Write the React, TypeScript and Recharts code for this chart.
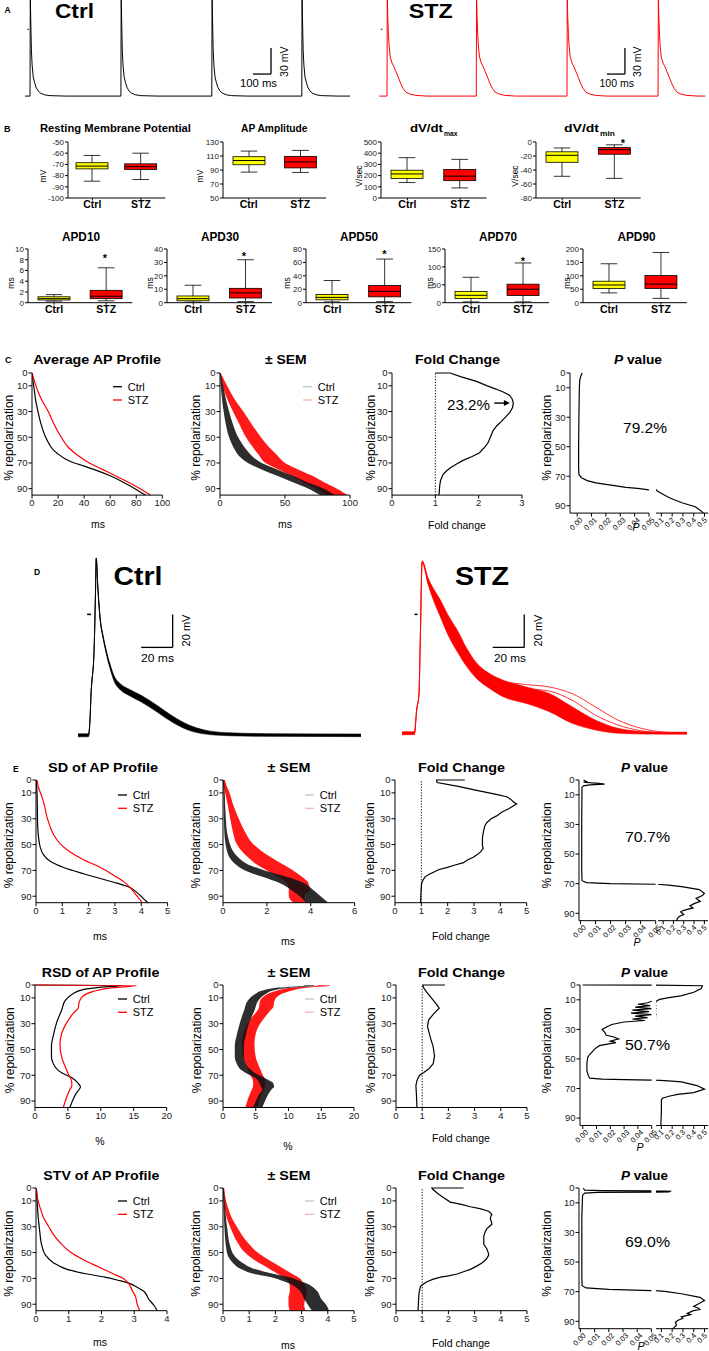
import React from 'react';
import { ComposedChart, Line, Area, Bar, XAxis, YAxis, ReferenceLine } from 'recharts';

const FONT = "'Liberation Sans', Arial, Helvetica, sans-serif";
const RED = '#ff0000';
const YELLOW = '#ffff00';
const AX = { stroke: '#000', strokeWidth: 1 };

/* ---------------- A : paced AP trains (ms after spike, mV) ---------------- */
const apWaveCtrl = [[0,-77],[1.5,40],[4,12],[7.6,-24],[12,-42],[17.8,-55],[25,-61],[33,-66.6],[45,-71],[58,-73.5],[80,-75.5],[111,-76.5],[200,-77]];
const apWaveStz = [[0,-77],[1.5,40],[4,16],[8,-6],[12,-20],[18,-32],[28,-39],[38,-43],[50,-49],[64,-56],[76,-62.5],[89,-68],[105,-72.5],[127,-74.7],[160,-76.2],[220,-77]];
const spikeTimesCtrl = [0, 505, 1010, 1510];
const spikeTimesStz = [0, 496, 1000, 1506];
const trainSpanCtrl = [-28, 1778];
const trainSpanStz = [-43, 1769];

/* ---------------- B : box plots [min, Q1, median, Q3, max] ---------------- */
const boxGroups = ['Ctrl', 'STZ'];
const rmpBox = [[-85,-74,-71.5,-68.5,-62],[-83.5,-74.5,-72,-69.5,-60]];
const ampBox = [[87,97.5,103.5,109,117],[86.5,93,101.5,109.5,118]];
const dvMaxBox = [[138,175,215,248,360],[90,155,195,255,345]];
const dvMinBox = [[-49,-29,-19,-14,-8.5],[-52,-17.5,-11,-8,-4]];
const apd10Box = [[0.3,0.5,0.75,1.1,1.5],[0.35,0.75,1.2,2.3,6.5]];
const apd30Box = [[0.4,1.4,3,5,13],[0.8,3.5,7.3,10.7,32]];
const apd50Box = [[1.2,4.3,7.9,12.2,33],[1.6,8.7,17,25.6,65]];
const apd70Box = [[2.2,11.8,20.7,31,71],[2.2,20,37.7,51.7,111]];
const apd90Box = [[36.5,53,66,80,145],[16,53,69,101,187]];
const rmpTicks = [-100,-90,-80,-70,-60,-50];
const ampTicks = [50,70,90,110,130];
const dvMaxTicks = [0,100,200,300,400,500];
const dvMinTicks = [-80,-60,-40,-20,0];
const apd10Ticks = [0,2,4,6,8,10];
const apd30Ticks = [0,10,20,30,40];
const apd50Ticks = [0,20,40,60,80];
const apd70Ticks = [0,50,100,150];
const apd90Ticks = [0,50,100,150,200];

/* ---------------- C : average AP profile [% repol, value] ---------------- */
const repolTicks = [0,10,30,50,70,90];
const avgCtrl = [[0,0],[3,0.5],[8,1],[15,2],[20,2.6],[30,4.6],[40,7],[50,10.5],[55,13],[60,16.5],[63,20],[66.5,25],[69,30],[72.5,40],[76,50],[80,60],[85,70],[90,79],[95,87]];
const avgStz = [[0,0],[5,1.5],[10,3],[20,7],[30,12.5],[40,17],[50,22.5],[58,28],[64,35],[70,44],[75,54],[80,64],[85,74],[90,83],[95,91]];
const avgSemCtrl = [[0,0,0.3],[5,0.3,1.5],[10,0.6,2.5],[20,1.5,4.5],[30,2.8,7],[40,4.5,10],[50,7,14],[55,9,17],[60,11.5,20.5],[65,15,25],[70,21.5,32],[75,32,44],[80,44,56],[85,56,67],[90,68,80],[95,77,88]];
const avgSemStz = [[0,0,0.5],[5,0.8,3],[10,2,5.5],[20,5.5,11],[30,10,18],[40,15,24.5],[50,20,31.5],[58,25.5,38],[64,30,44],[70,35,50],[75,45,60],[80,55,71],[85,64,80],[90,74,90],[95,82,98]];
const avgFold = [[0,1.0],[0,1.34],[3,1.6],[6.5,1.95],[10,2.2],[12.5,2.4],[15,2.58],[17.3,2.71],[20,2.77],[23.4,2.8],[27,2.78],[30.6,2.72],[34,2.63],[37.8,2.52],[41,2.42],[45,2.33],[50,2.27],[54.7,2.21],[58,2.13],[62,2.02],[65,1.85],[68,1.64],[71,1.48],[74,1.34],[76.5,1.25],[78.8,1.18],[83.6,1.12],[88,1.1],[93,1.09],[95,1.08]];
const avgP = [[0,0.0035],[2,0.0025],[5,0.0018],[10,0.0015],[30,0.0012],[50,0.001],[65,0.001],[69,0.0013],[71,0.003],[73,0.007],[74.5,0.013],[75.5,0.02],[76.5,0.027],[77.5,0.034],[78.3,0.042],[79.2,0.05],[80,0.062],[82,0.11],[84.4,0.17],[86,0.22],[88,0.29],[89.5,0.36],[90.5,0.41],[92,0.44],[94,0.475],[95,0.49]];

/* ---------------- D : superimposed APs [ms, mean mV, half-spread mV] ---------------- */
const dCtrl = [[0,-73.3,0.9],[6.7,-73.3,0.9],[7.6,-64,0.2],[8.4,-46,0.2],[8.7,-42,0.2],[10.2,-22,0.2],[11,8,0.2],[11.6,34,0.3],[12.5,18,0.4],[14,-2,0.6],[16,-14,0.8],[18,-23,1],[20.5,-32,1.3],[23,-39,1.6],[27,-44,1.8],[33,-47.5,1.9],[40,-51,2],[50,-57,2],[60,-63.5,1.9],[70,-68.5,1.6],[80,-71.2,1.2],[95,-72.6,0.9],[120,-73.1,0.8],[180,-73.3,0.8]];
const dStz = [[0,-72,0.9],[7.9,-72,0.9],[9.3,-58,0.2],[10.8,-48,0.2],[11.6,-16,0.3],[12.8,32,0.5],[16.6,20,2],[20,12,3.5],[23.9,4.5,5],[29,-6,6],[35.5,-16.7,6.5],[41,-26,5.5],[47,-34,4.5],[55,-40,4.5],[64.5,-45,5],[79,-49,5],[93.6,-53.5,5.5],[108,-61,5],[122.7,-67,3],[137,-70.5,1.5],[151.7,-71.7,0.8],[166,-72,0.6],[181,-72,0.6]];
const dStzOutA = [[41,-21],[47,-29],[55,-36],[64.5,-40.5],[79,-42.5],[93.6,-44],[108,-48],[122.7,-56],[137,-64],[151.7,-69],[166,-71.3],[181,-72]];
const dStzOutB = [[55,-37],[64.5,-42],[79,-45],[93.6,-46.5],[108,-52],[122.7,-61],[137,-67],[151.7,-70.5],[166,-71.8],[181,-72]];

/* ---------------- E1 : SD ---------------- */
const sdCtrl = [[0,0.01],[10.9,0.04],[20,0.05],[32.7,0.06],[44.8,0.1],[52,0.16],[58,0.29],[63,0.54],[67.8,1.05],[72.6,1.81],[76.3,2.45],[79.9,3.08],[82.3,3.46],[87.2,3.84],[92,4.09],[95,4.25]];
const sdStz = [[0,0.04],[6,0.1],[13.3,0.23],[20.6,0.33],[29,0.42],[36.3,0.54],[42.4,0.67],[49.6,0.93],[55.7,1.3],[61.7,1.81],[67.8,2.45],[73.8,2.95],[78.7,3.33],[83.5,3.59],[88.4,3.78],[93.2,3.97],[95,4.03]];
const sdSemCtrl = [[0,0,0.05],[10,0.02,0.08],[20,0.03,0.1],[30,0.04,0.13],[40,0.06,0.18],[45,0.08,0.24],[50,0.12,0.32],[55,0.18,0.45],[60,0.3,0.7],[65,0.55,1.1],[70,1.0,1.9],[75,1.8,2.9],[80,2.6,3.7],[85,3.1,4.1],[90,3.5,4.45],[95,3.8,4.8]];
const sdSemStz = [[0,0,0.08],[5,0.03,0.18],[10,0.1,0.3],[20,0.22,0.48],[30,0.33,0.72],[40,0.45,1.0],[50,0.64,1.4],[55,0.85,1.75],[60,1.15,2.2],[65,1.5,2.7],[70,2.0,3.2],[75,2.5,3.6],[80,2.9,3.9],[85,3.0,3.95],[90,3.0,3.7],[95,3.2,3.8]];
const sdFold = [[0,2.65],[0,1.58],[2,1.6],[5,2.4],[8,3.1],[11,3.8],[13,4.24],[15,4.4],[17,4.5],[18.6,4.62],[20,4.5],[22.5,4.3],[25,4.05],[27.8,3.86],[30,3.65],[32.7,3.5],[35,3.42],[38.7,3.37],[44.8,3.32],[50.8,3.32],[53,3.35],[55.7,3.25],[58,3.1],[59.8,2.97],[62,2.75],[64,2.6],[66,2.25],[67.8,1.96],[69.5,1.65],[71.4,1.46],[73,1.3],[75,1.14],[78,1.05],[80,1.01],[86,0.99],[95,0.97]];
const sdP = [[0,0.002],[1,0.004],[1.5,0.002],[2.3,0.012],[2.8,0.016],[3.3,0.006],[4,0.002],[5,0.001],[30,0.0008],[60,0.0008],[68,0.001],[69.3,0.004],[70,0.02],[70.4,0.05],[71,0.15],[72,0.28],[74,0.45],[76.5,0.5],[78,0.48],[80,0.42],[82,0.46],[83.5,0.4],[85,0.36],[86.4,0.39],[88,0.3],[89,0.27],[90.8,0.3],[92,0.26],[93.2,0.24],[95,0.23]];

/* ---------------- E2 : RSD (%) ---------------- */
const rsdCtrl = [[0,0],[0.3,13.2],[1.5,10.5],[3.6,7.3],[7.3,5.6],[12,4.6],[19.4,4.05],[29,3.3],[38.8,2.8],[47,2.5],[56,2.5],[60,2.7],[63,3.0],[66,3.5],[68,4.05],[72,5.6],[76.5,6.6],[79,6.9],[81,6.7],[83.7,6.3],[88.6,5.8],[95,5.3]];
const rsdStz = [[0,0],[0.4,15.4],[2,11.9],[4.9,8.9],[8.5,7.3],[13.3,6.7],[17,6.6],[18.5,6.5],[19.4,6.3],[22,5.8],[25.5,5.3],[31.5,4.56],[37.6,4.05],[46,3.8],[56,4.05],[63,4.56],[69,5.06],[75,5.57],[78,5.6],[81,5.3],[87,4.8],[95,4.3]];
const rsdSemCtrl = [[0,0,0],[0.3,12.5,14],[2,8.5,10.5],[4,6.2,7.8],[7.3,4.8,6.4],[12,3.8,5.4],[20,3.2,4.8],[29,2.6,4.0],[38.8,2.1,3.5],[47,1.8,3.2],[56,1.8,3.2],[60,2.0,3.4],[63,2.3,3.7],[66,2.8,4.3],[68,3.4,4.8],[72,4.9,6.3],[76.5,5.6,7.7],[79,5.8,7.8],[81,6.0,7.4],[84,5.6,7.0],[89,5.1,6.5],[95,4.6,6.0]];
const rsdSemStz = [[0,0,0],[0.4,14.5,16.4],[2,10.8,13],[5,7.8,10],[8.5,6.3,8.4],[13.3,5.6,7.8],[17,5.5,7.7],[19.4,5.3,7.3],[25.5,4.3,6.3],[31.5,3.6,5.5],[37.6,3.1,5.0],[46,2.9,4.8],[56,3.1,5.0],[63,3.6,5.5],[69,4.1,6.0],[75,4.6,6.5],[78,4.6,6.5],[81,4.4,6.2],[87,3.9,5.7],[95,3.4,5.2]];
const rsdFold = [[0,1.87],[0,1.02],[2,1.05],[5,1.15],[10,1.35],[15,1.55],[18,1.65],[22,1.45],[27,1.25],[32,1.2],[40,1.3],[48,1.42],[55,1.47],[61,1.42],[65,1.25],[68,1.05],[70,0.9],[74,0.8],[78,0.76],[85,0.78],[95,0.8]];
const rsdP = [[0,0],[0.5,0.48],[2.4,0.47],[4.9,0.4],[7.3,0.28],[8.5,0.17],[9.7,0.084],[11,0.05],[12,0.047],[13,0.04],[14,0.049],[15,0.038],[16,0.05],[17,0.036],[18,0.048],[19,0.035],[20,0.05],[21,0.038],[22,0.047],[23,0.036],[24,0.045],[25,0.03],[26.7,0.021],[28,0.018],[30,0.014],[32,0.016],[34,0.017],[35,0.022],[36.4,0.026],[38,0.02],[39,0.024],[40,0.018],[41,0.012],[43,0.009],[45,0.007],[47,0.005],[49,0.0036],[53,0.003],[58,0.003],[61,0.004],[63,0.005],[63.6,0.014],[64,0.03],[64.3,0.05],[65,0.2],[65.5,0.285],[68,0.43],[70.4,0.5],[72.8,0.4],[74,0.25],[75.2,0.17],[76.5,0.11],[77.7,0.1],[85,0.1],[95,0.095]];

/* ---------------- E3 : STV ---------------- */
const stvCtrl = [[0,0.01],[8.5,0.03],[20.6,0.06],[32.7,0.11],[44.8,0.18],[52,0.29],[58,0.54],[63,0.95],[66.6,1.56],[69,2.1],[71.4,2.5],[73.8,2.85],[77,3.1],[80,3.29],[86,3.44],[90.8,3.6],[95,3.7]];
const stvStz = [[0,0.01],[8.5,0.05],[15.7,0.13],[23,0.23],[30,0.39],[36.3,0.54],[42.4,0.74],[49.6,1.05],[55.7,1.46],[61.7,1.96],[66.6,2.37],[70.2,2.68],[73,2.8],[76,2.88],[80,2.95],[83.5,3.03],[90.8,3.1],[95,3.17]];
const stvSemCtrl = [[0,0,0.03],[8.5,0.01,0.06],[20,0.03,0.1],[32.7,0.06,0.17],[44.8,0.11,0.27],[52,0.18,0.42],[58,0.38,0.75],[63,0.7,1.25],[66.6,1.2,1.95],[69,1.8,2.5],[71.4,2.2,2.85],[74,2.55,3.2],[77,2.8,3.45],[80,2.95,3.6],[86,3.1,3.75],[90.8,3.25,3.95],[95,3.4,4.05]];
const stvSemStz = [[0,0,0.05],[8.5,0.02,0.1],[15.7,0.07,0.2],[23,0.14,0.33],[30,0.27,0.53],[36.3,0.4,0.72],[42.4,0.56,0.95],[49.6,0.82,1.3],[55.7,1.2,1.75],[61.7,1.7,2.25],[66.6,2.1,2.65],[70.2,2.4,2.95],[73,2.5,3.05],[76,2.55,3.15],[80,2.55,3.2],[85,2.5,3.15],[90.8,2.5,3.1],[95,2.55,3.15]];
const stvFold = [[0,2.58],[0,1.37],[1,1.4],[4.8,1.63],[8,1.85],[10.9,2.07],[12.5,2.45],[14.5,2.84],[16,3.2],[18,3.54],[20.6,3.66],[22,3.62],[24,3.6],[26,3.64],[28,3.66],[30,3.55],[31.5,3.47],[34,3.4],[37.5,3.35],[43.6,3.35],[47.2,3.47],[50,3.52],[52,3.54],[55,3.45],[58,3.28],[60.5,3.08],[63,2.84],[65,2.55],[66.6,2.33],[68,2.0],[69,1.7],[70.8,1.4],[72.6,1.18],[74.5,1.03],[76.3,0.93],[80,0.89],[83.5,0.87],[95,0.84]];
const stvP = [[0,0.002],[1.5,0.003],[1.8,0.015],[2,0.05],[2.2,0.18],[2.6,0.17],[2.8,0.05],[3,0.012],[3.5,0.003],[5,0.0015],[20,0.001],[60,0.001],[66,0.0012],[67.5,0.004],[68.5,0.02],[69.3,0.05],[70,0.15],[71.4,0.285],[73.8,0.457],[76,0.5],[78,0.45],[80,0.4],[81,0.44],[82,0.457],[83,0.39],[84.7,0.34],[85.5,0.37],[87,0.285],[88,0.3],[89.5,0.25],[90.8,0.23],[92.5,0.24],[95,0.21]];

const foldTicks3 = [0,1,2,3];
const foldTicks5 = [0,1,2,3,4,5];
const pTicksL = [0,0.01,0.02,0.03,0.04,0.05];
const pTicksR = [0.1,0.2,0.3,0.4,0.5];

/* ---------------- helpers ---------------- */
// plot area x0..x1 / y0..y1 in page pixels; axW = y-axis width, padL = extra left room when the y axis is hidden
const geo = (x0, x1, y0, y1, axW, axH, padT = 6, padR = 8, padL = 0) => ({
  style: { position: 'absolute', left: x0 - axW - padL, top: y0 - padT } as React.CSSProperties,
  width: padL + axW + (x1 - x0) + padR,
  height: padT + (y1 - y0) + axH,
  margin: { top: padT, right: padR, bottom: 0, left: padL },
});
const pv = (d) => d.map(([p, v]) => ({ p, v }));
const pr = (d) => d.map(([p, lo, hi]) => ({ p, r: [lo, hi] }));
const tv = (d) => d.map(([t, v]) => ({ t, v }));

function buildTrain(wave, spikes, span) {
  const rows = [{ t: span[0], v: wave[0][1] }];
  spikes.forEach((s, i) => {
    const next = i < spikes.length - 1 ? spikes[i + 1] : Infinity;
    wave.forEach(([t, v]) => { if (s + t < next) rows.push({ t: s + t, v }); });
  });
  rows.push({ t: span[1], v: wave[wave.length - 1][1] });
  return rows;
}

const TICK = { fontSize: 9.5, fill: '#1a1a1a' };

function Trace({ x0, x1, y0, y1, tDomain, vDomain, lines = [], bands = [], segs = [] }) {
  const g = geo(x0, x1, y0, y1, 0, 0, 0, 0);
  return (
    <div style={g.style}>
      <ComposedChart width={g.width} height={g.height} margin={g.margin}>
        <XAxis hide type="number" dataKey="t" domain={tDomain} allowDataOverflow />
        <YAxis hide type="number" domain={vDomain} allowDataOverflow />
        {bands.map((b, i) => (
          <Area key={'b' + i} data={b.rows} dataKey="r" type="monotone" stroke={b.color} strokeWidth={0.6} fill={b.color} fillOpacity={b.op} isAnimationActive={false} />
        ))}
        {lines.map((l, i) => (
          <Line key={'l' + i} data={l.rows} dataKey="v" type={l.curve || 'monotone'} stroke={l.color} strokeWidth={l.w} dot={false} activeDot={false} isAnimationActive={false} />
        ))}
        {segs.map((s, i) => (
          <ReferenceLine key={'s' + i} segment={s.pts} stroke="#000" strokeWidth={s.w || 1.3} ifOverflow="visible" />
        ))}
      </ComposedChart>
    </div>
  );
}

const BoxShape = (props) => {
  const { x, y, width, height, payload } = props;
  const { min, max, q1, med, q3, name } = payload;
  const py = (v) => y + ((max - v) / (max - min)) * height;
  const cx = x + width / 2;
  const cw = width * 0.26;
  const fill = name === 'Ctrl' ? YELLOW : RED;
  const st = { stroke: '#000', strokeWidth: 0.8 };
  return (
    <g>
      <line x1={cx} x2={cx} y1={py(max)} y2={py(q3)} {...st} />
      <line x1={cx} x2={cx} y1={py(q1)} y2={py(min)} {...st} />
      <line x1={cx - cw} x2={cx + cw} y1={py(max)} y2={py(max)} {...st} />
      <line x1={cx - cw} x2={cx + cw} y1={py(min)} y2={py(min)} {...st} />
      <rect x={x} y={py(q3)} width={width} height={py(q1) - py(q3)} fill={fill} {...st} />
      <line x1={x} x2={x + width} y1={py(med)} y2={py(med)} stroke="#000" strokeWidth={1} />
    </g>
  );
};

function BoxChart({ x0, x1, y0, y1, domain, ticks, stats }) {
  const data = boxGroups.map((name, i) => {
    const [min, q1, med, q3, max] = stats[i];
    return { name, range: [min, max], min, q1, med, q3, max };
  });
  const g = geo(x0, x1, y0, y1, 30, 16, 4, 2);
  return (
    <div style={g.style}>
      <ComposedChart width={g.width} height={g.height} margin={g.margin} data={data}>
        <XAxis dataKey="name" type="category" interval={0} tickSize={2} tickMargin={0.5} axisLine={AX} tickLine={AX}
          tick={{ fontSize: 10.5, fontWeight: 700, fill: '#000' }} />
        <YAxis type="number" domain={domain} ticks={ticks} interval={0} width={30} tickSize={3} tickMargin={1} axisLine={AX} tickLine={AX}
          tick={{ fontSize: 8, fill: '#222' }} allowDataOverflow />
        <Bar dataKey="range" barSize={32} shape={BoxShape} isAnimationActive={false} />
      </ComposedChart>
    </div>
  );
}

const ArrowShape = (props) => {
  const { x1, y1, x2, y2 } = props;
  return (
    <g>
      <line x1={x1} y1={y1} x2={x2 - 5} y2={y2} stroke="#000" strokeWidth={1.4} />
      <polygon points={`${x2},${y2} ${x2 - 6},${y2 - 3} ${x2 - 6},${y2 + 3}`} fill="#000" />
    </g>
  );
};

function Prof({ x0, x1, y0, y1, domain, ticks, lines = [], bands = [], dotted = false, arrow = null, yAxis = true, tickFmt = null, rotTicks = false, rotDx = 4, axH = 22, padR = 8, padL = 0 }) {
  const g = geo(x0, x1, y0, y1, yAxis ? 30 : 0, rotTicks ? 40 : axH, 6, padR, padL);
  const RotTick = (props) => {
    const { x, y, payload } = props;
    return (
      <g transform={`translate(${x + rotDx},${y + 1})`}>
        <text x={0} y={0} dy="0.35em" transform="rotate(-45)" textAnchor="end" fontSize={7.5} fill="#000">
          {tickFmt ? tickFmt(payload.value) : payload.value}
        </text>
      </g>
    );
  };
  return (
    <div style={g.style}>
      <ComposedChart layout="vertical" width={g.width} height={g.height} margin={g.margin}>
        <XAxis type="number" domain={domain} ticks={ticks} interval={0} allowDataOverflow tickSize={3.5} tickMargin={1}
          axisLine={AX} tickLine={AX} tick={rotTicks ? RotTick : TICK} />
        <YAxis type="number" dataKey="p" domain={[0, 95]} ticks={repolTicks} interval={0} width={30} hide={!yAxis}
          tickSize={3.5} tickMargin={1} axisLine={AX} tickLine={AX} tick={TICK} />
        {bands.map((b, i) => (
          <Area key={'b' + i} data={b.rows} dataKey="r" type="monotone" stroke="none" fill={b.color} fillOpacity={b.op} isAnimationActive={false} />
        ))}
        {lines.map((l, i) => (
          <Line key={'l' + i} data={l.rows} dataKey="v" type={l.curve || 'monotone'} stroke={l.color} strokeWidth={l.w || 1.2} dot={false} activeDot={false} isAnimationActive={false} />
        ))}
        {dotted && <ReferenceLine x={1} stroke="#000" strokeWidth={1} strokeDasharray="1.2 1.6" />}
        {arrow && <ReferenceLine segment={arrow} shape={ArrowShape} ifOverflow="visible" />}
      </ComposedChart>
    </div>
  );
}

function PPanel({ lx0, lx1, rx0, rx1, y0, y1, lDomain, rDomain, data }) {
  const rows = pv(data);
  const ln = [{ rows, color: '#000', w: 1.2, curve: 'linear' }];
  return (
    <>
      <Prof x0={lx0} x1={lx1} y0={y0} y1={y1} domain={lDomain} ticks={pTicksL} lines={ln} rotTicks tickFmt={(v) => v.toFixed(2)} padR={6} />
      <Prof x0={rx0} x1={rx1} y0={y0} y1={y1} domain={rDomain} ticks={pTicksR} lines={ln} rotTicks rotDx={1} yAxis={false} tickFmt={(v) => v.toFixed(1)} padR={0.6} padL={14} />
    </>
  );
}

/* ---------------- text overlay helpers ---------------- */
const Txt = ({ x, y, s = 10, b = false, it = false, a = 'start', len = undefined, rot = 0, c = '#000', children }) => (
  <text x={x} y={y} fontSize={s} fontWeight={b ? 700 : 400} fontStyle={it ? 'italic' : 'normal'} textAnchor={a}
    textLength={len} lengthAdjust={len ? 'spacingAndGlyphs' : undefined}
    transform={rot ? `rotate(${rot} ${x} ${y})` : undefined} fill={c}>{children}</text>
);

const Legend = ({ x, y, faint = false }) => (
  <g>
    <line x1={x} x2={x + 9} y1={y} y2={y} stroke={faint ? '#c4c4c4' : '#000'} strokeWidth={1.3} />
    <line x1={x} x2={x + 9} y1={y + 13.3} y2={y + 13.3} stroke={faint ? '#f6b4b4' : RED} strokeWidth={1.3} />
    <Txt x={x + 14.7} y={y + 3.9} s={11}>Ctrl</Txt>
    <Txt x={x + 14.7} y={y + 17.2} s={11}>STZ</Txt>
  </g>
);

const RepolLabel = ({ x, y0, y1 }) => (
  <Txt x={x} y={(y0 + y1) / 2} s={12} a="middle" rot={-90}>% repolarization</Txt>
);

/* ---------------- layout of the profile rows ---------------- */
const rowsE = [
  { y0: 780, y1: 910.7, c1: [35.7, 167.3], c2: [222.7, 354.3], c3: [395, 526.7], l: [579.3, 656], r: [658.3, 708.3], lDom: [-0.001, 0.05] },
  { y0: 985, y1: 1115.5, c1: [35, 166.7], c2: [223.3, 354.3], c3: [395.7, 526.7], l: [580, 651.7], r: [656, 708.3], lDom: [-0.002, 0.05] },
  { y0: 1188.3, y1: 1319, c1: [35.7, 166.7], c2: [223.3, 354.3], c3: [395.7, 526.7], l: [579.3, 651.7], r: [656, 708.3], lDom: [-0.001, 0.05] },
];
const P_RIGHT_DOMAIN = [0.05, 0.535];

export default function App() {
  const trainCtrl = buildTrain(apWaveCtrl, spikeTimesCtrl, trainSpanCtrl);
  const trainStz = buildTrain(apWaveStz, spikeTimesStz, trainSpanStz);
  const ctrlLine = (d) => ({ rows: pv(d), color: '#000', w: 1.2 });
  const stzLine = (d) => ({ rows: pv(d), color: RED, w: 1.2 });
  const ctrlBand = (d) => ({ rows: pr(d), color: '#111', op: 0.88 });
  const stzBand = (d) => ({ rows: pr(d), color: RED, op: 0.9 });
  const foldLine = (d) => [{ rows: pv(d), color: '#000', w: 1.2, curve: 'linear' }];
  const eSets = [
    { a: [sdCtrl, sdStz], b: [sdSemCtrl, sdSemStz], f: sdFold, p: sdP, d1: [0, 5], t1: [0,1,2,3,4,5], d2: [0, 6], t2: [0,2,4,6] },
    { a: [rsdCtrl, rsdStz], b: [rsdSemCtrl, rsdSemStz], f: rsdFold, p: rsdP, d1: [0, 20], t1: [0,5,10,15,20], d2: [0, 20], t2: [0,5,10,15,20] },
    { a: [stvCtrl, stvStz], b: [stvSemCtrl, stvSemStz], f: stvFold, p: stvP, d1: [0, 4], t1: [0,1,2,3,4], d2: [0, 5], t2: [0,1,2,3,4,5] },
  ];

  return (
    <div style={{ position: 'absolute', left: 0, top: 0, width: 709, height: 1351, background: '#fff', fontFamily: FONT, overflow: 'hidden' }}>
      {/* ---------- A ---------- */}
      <Trace x0={21} x1={354} y0={0} y1={98.7} tDomain={[-50, 1800]} vDomain={[-80, 33.8]}
        lines={[{ rows: trainCtrl, color: '#000', w: 1, curve: 'linear' }]}
        segs={[
          { pts: [{ x: 1339, y: -51.6 }, { x: 1339, y: -21.6 }] },
          { pts: [{ x: 1239, y: -51.6 }, { x: 1339, y: -51.6 }] },
          { pts: [{ x: -14, y: 0 }, { x: -6, y: 0 }], w: 1 },
        ]} />
      <Trace x0={377.7} x1={708.9} y0={0} y1={98.7} tDomain={[-50, 1790]} vDomain={[-80, 33.8]}
        lines={[{ rows: trainStz, color: RED, w: 1, curve: 'linear' }]}
        segs={[
          { pts: [{ x: 1322, y: -51.6 }, { x: 1322, y: -21.6 }] },
          { pts: [{ x: 1222, y: -51.6 }, { x: 1322, y: -51.6 }] },
          { pts: [{ x: -34, y: 0 }, { x: -26, y: 0 }], w: 1 },
        ]} />

      {/* ---------- B ---------- */}
      <BoxChart x0={67.7} x1={165} y0={141.5} y1={211.5} domain={[-100, -50]} ticks={rmpTicks} stats={rmpBox} />
      <BoxChart x0={223} x1={326} y0={141.5} y1={211.5} domain={[50, 130]} ticks={ampTicks} stats={ampBox} />
      <BoxChart x0={381} x1={486.5} y0={141.5} y1={211.5} domain={[0, 500]} ticks={dvMaxTicks} stats={dvMaxBox} />
      <BoxChart x0={536} x1={640.7} y0={141.5} y1={211.5} domain={[-80, 0]} ticks={dvMinTicks} stats={dvMinBox} />
      <BoxChart x0={28.4} x1={132.7} y0={249} y1={316.7} domain={[0, 10]} ticks={apd10Ticks} stats={apd10Box} />
      <BoxChart x0={167} x1={272} y0={249} y1={316.7} domain={[0, 40]} ticks={apd30Ticks} stats={apd30Box} />
      <BoxChart x0={305.7} x1={411} y0={249} y1={316.7} domain={[0, 80]} ticks={apd50Ticks} stats={apd50Box} />
      <BoxChart x0={444.9} x1={549} y0={249} y1={316.7} domain={[0, 150]} ticks={apd70Ticks} stats={apd70Box} />
      <BoxChart x0={582.6} x1={686.5} y0={249} y1={316.7} domain={[0, 200]} ticks={apd90Ticks} stats={apd90Box} />

      {/* ---------- C ---------- */}
      <Prof x0={32} x1={162.3} y0={372.7} y1={502.8} domain={[0, 100]} ticks={[0,20,40,60,80,100]}
        lines={[ctrlLine(avgCtrl), stzLine(avgStz)]} />
      <Prof x0={220} x1={350} y0={372.7} y1={502.8} domain={[0, 100]} ticks={[0,50,100]}
        bands={[stzBand(avgSemStz), ctrlBand(avgSemCtrl)]} />
      <Prof x0={391.7} x1={521.7} y0={372.7} y1={502.8} domain={[0, 3]} ticks={foldTicks3}
        lines={foldLine(avgFold)} dotted arrow={[{ x: 2.36, y: 23.4 }, { x: 2.72, y: 23.4 }]} />
      <PPanel lx0={570} lx1={649} rx0={656} rx1={708.3} y0={372.7} y1={502.8} lDomain={[-0.005, 0.05]} rDomain={P_RIGHT_DOMAIN} data={avgP} />

      {/* ---------- D ---------- */}
      <Trace x0={77.8} x1={361.3} y0={554.6} y1={739.4} tDomain={[0, 180]} vDomain={[-76, 36]}
        bands={[{ rows: dCtrl.map(([t, m, h]) => ({ t, r: [m - h, m + h] })), color: '#000', op: 1 }]}
        lines={[{ rows: dCtrl.map(([t, m]) => ({ t, v: m })), color: '#000', w: 1 }]}
        segs={[
          { pts: [{ x: 60.1, y: -20 }, { x: 60.1, y: 0 }] },
          { pts: [{ x: 40.1, y: -20 }, { x: 60.1, y: -20 }] },
          { pts: [{ x: 5.8, y: 0 }, { x: 8.3, y: 0 }], w: 1.5 },
        ]} />
      <Trace x0={401.8} x1={686.9} y0={554.6} y1={739.4} tDomain={[0, 181]} vDomain={[-76, 36]}
        bands={[{ rows: dStz.map(([t, m, h]) => ({ t, r: [m - h, m + h] })), color: RED, op: 1 }]}
        lines={[
          { rows: dStz.map(([t, m]) => ({ t, v: m })), color: RED, w: 1 },
          { rows: tv(dStzOutA), color: RED, w: 0.8 },
          { rows: tv(dStzOutB), color: RED, w: 0.8 },
        ]}
        segs={[
          { pts: [{ x: 77.6, y: -20 }, { x: 77.6, y: 0 }] },
          { pts: [{ x: 57.6, y: -20 }, { x: 77.6, y: -20 }] },
          { pts: [{ x: 7.9, y: 0 }, { x: 9.9, y: 0 }], w: 1.5 },
        ]} />

      {/* ---------- E ---------- */}
      {rowsE.map((g, i) => {
        const s = eSets[i];
        return (
          <React.Fragment key={i}>
            <Prof x0={g.c1[0]} x1={g.c1[1]} y0={g.y0} y1={g.y1} domain={s.d1} ticks={s.t1} lines={[ctrlLine(s.a[0]), stzLine(s.a[1])]} />
            <Prof x0={g.c2[0]} x1={g.c2[1]} y0={g.y0} y1={g.y1} domain={s.d2} ticks={s.t2} bands={[stzBand(s.b[1]), ctrlBand(s.b[0])]} />
            <Prof x0={g.c3[0]} x1={g.c3[1]} y0={g.y0} y1={g.y1} domain={[0, 5]} ticks={foldTicks5} lines={foldLine(s.f)} dotted />
            <PPanel lx0={g.l[0]} lx1={g.l[1]} rx0={g.r[0]} rx1={g.r[1]} y0={g.y0} y1={g.y1} lDomain={g.lDom} rDomain={P_RIGHT_DOMAIN} data={s.p} />
          </React.Fragment>
        );
      })}

      {/* ---------- text overlay ---------- */}
      <svg width={709} height={1351} style={{ position: 'absolute', left: 0, top: 0, pointerEvents: 'none', fontFamily: FONT }}>
        {/* A */}
        <Txt x={4.5} y={13} s={8.5} b>A</Txt>
        <Txt x={55} y={18} s={21} b len={39}>Ctrl</Txt>
        <Txt x={408.7} y={18} s={21} b len={44}>STZ</Txt>
        <Txt x={288} y={61.7} s={10.5} a="middle" rot={-90}>30 mV</Txt>
        <Txt x={240} y={87} s={10.5} len={37}>100 ms</Txt>
        <Txt x={641} y={61.7} s={10.5} a="middle" rot={-90}>30 mV</Txt>
        <Txt x={599.5} y={87} s={10.5} len={34.5}>100 ms</Txt>

        {/* B */}
        <Txt x={4} y={132} s={9} b>B</Txt>
        <Txt x={40} y={132} s={10.5} b len={151}>Resting Membrane Potential</Txt>
        <Txt x={241} y={132} s={10.5} b len={66.5}>AP Amplitude</Txt>
        <Txt x={410} y={132} s={10.5} b len={33}>dV/dt</Txt>
        <Txt x={444} y={135.5} s={7.5} b len={13.5}>max</Txt>
        <Txt x={564} y={132} s={10.5} b len={35}>dV/dt</Txt>
        <Txt x={600} y={135.5} s={7.5} b len={15}>min</Txt>
        <Txt x={46} y={176} s={8.5} a="middle" rot={-90}>mV</Txt>
        <Txt x={203} y={176} s={8.5} a="middle" rot={-90}>mV</Txt>
        <Txt x={362} y={176} s={8.5} a="middle" rot={-90}>V/sec</Txt>
        <Txt x={518} y={176} s={8.5} a="middle" rot={-90}>V/sec</Txt>
        <Txt x={623} y={147} s={11} b a="middle">*</Txt>
        {[[81, 'APD10'], [220, 'APD30'], [359, 'APD50'], [498, 'APD70'], [636.5, 'APD90']].map(([x, t]) => (
          <Txt key={t as string} x={(x as number) - 19} y={241} s={12} b len={38}>{t}</Txt>
        ))}
        {[14, 152.5, 289.5, 432.5, 570].map((x) => (
          <Txt key={x} x={x} y={283} s={8.5} a="middle" rot={-90}>ms</Txt>
        ))}
        <Txt x={105} y={262} s={11} b a="middle">*</Txt>
        <Txt x={244} y={260} s={11} b a="middle">*</Txt>
        <Txt x={384.4} y={258} s={11} b a="middle">*</Txt>
        <Txt x={523} y={265} s={11} b a="middle">*</Txt>

        {/* C */}
        <Txt x={5} y={363} s={9} b>C</Txt>
        <Txt x={33.3} y={364} s={13.5} b len={127.7}>Average AP Profile</Txt>
        <Txt x={265} y={364} s={13.5} b len={41.7}>± SEM</Txt>
        <Txt x={415} y={364} s={13.5} b len={85}>Fold Change</Txt>
        <Txt x={614} y={364} s={13.5} b len={48}><tspan fontStyle="italic">P</tspan> value</Txt>
        <RepolLabel x={12.5} y0={372.7} y1={502.8} />
        <RepolLabel x={199.5} y0={372.7} y1={502.8} />
        <RepolLabel x={374.5} y0={372.7} y1={502.8} />
        <RepolLabel x={551} y0={372.7} y1={502.8} />
        <Legend x={113} y={386.7} />
        <Legend x={303} y={386.7} faint />
        <Txt x={98} y={528} s={10.5} a="middle">ms</Txt>
        <Txt x={285} y={528} s={10.5} a="middle">ms</Txt>
        <Txt x={457} y={529} s={10.5} a="middle">Fold change</Txt>
        <Txt x={636} y={531} s={10.5} it a="middle">P</Txt>
        <Txt x={447} y={410} s={15} len={43}>23.2%</Txt>
        <Txt x={623} y={433} s={15} len={44}>79.2%</Txt>

        {/* D */}
        <Txt x={34} y={575} s={8.5} b>D</Txt>
        <Txt x={113.5} y={585} s={26} b len={49}>Ctrl</Txt>
        <Txt x={455} y={585} s={26} b len={54}>STZ</Txt>
        <Txt x={190} y={630.5} s={11} a="middle" rot={-90}>20 mV</Txt>
        <Txt x={141} y={662} s={11} len={33}>20 ms</Txt>
        <Txt x={542} y={630.5} s={11} a="middle" rot={-90}>20 mV</Txt>
        <Txt x={494} y={662} s={11} len={32}>20 ms</Txt>

        {/* E */}
        <Txt x={13} y={772} s={8.5} b>E</Txt>
        {[
          { y: 772, t: 'SD of AP Profile', x: 48, len: 110 },
          { y: 977, t: 'RSD of AP Profile', x: 41.7, len: 117.6 },
          { y: 1180, t: 'STV of AP Profile', x: 43.3, len: 116 },
        ].map((r) => (
          <React.Fragment key={r.t}>
            <Txt x={r.x} y={r.y} s={13.5} b len={r.len}>{r.t}</Txt>
            <Txt x={267.5} y={r.y} s={13.5} b len={43}>± SEM</Txt>
            <Txt x={418} y={r.y} s={13.5} b len={87}>Fold Change</Txt>
            <Txt x={621} y={r.y} s={13.5} b len={47}><tspan fontStyle="italic">P</tspan> value</Txt>
          </React.Fragment>
        ))}
        {rowsE.map((g, i) => (
          <React.Fragment key={'rl' + i}>
            <RepolLabel x={13.5} y0={g.y0} y1={g.y1} />
            <RepolLabel x={200.5} y0={g.y0} y1={g.y1} />
            <RepolLabel x={374.5} y0={g.y0} y1={g.y1} />
            <RepolLabel x={551} y0={g.y0} y1={g.y1} />
          </React.Fragment>
        ))}
        <Legend x={118} y={795} />
        <Legend x={305} y={795} faint />
        <Legend x={118} y={999} />
        <Legend x={305} y={999} faint />
        <Legend x={118} y={1201} />
        <Legend x={305} y={1201} faint />
        <Txt x={100} y={940} s={10.5} a="middle">ms</Txt>
        <Txt x={288} y={945} s={10.5} a="middle">ms</Txt>
        <Txt x={461} y={940} s={10.5} a="middle">Fold change</Txt>
        <Txt x={637} y={946} s={10.5} it a="middle">P</Txt>
        <Txt x={100} y={1145} s={10.5} a="middle">%</Txt>
        <Txt x={288} y={1150} s={10.5} a="middle">%</Txt>
        <Txt x={461} y={1142} s={10.5} a="middle">Fold change</Txt>
        <Txt x={640} y={1151} s={10.5} it a="middle">P</Txt>
        <Txt x={100} y={1346} s={10.5} a="middle">ms</Txt>
        <Txt x={288} y={1349} s={10.5} a="middle">ms</Txt>
        <Txt x={461} y={1347} s={10.5} a="middle">Fold change</Txt>
        <Txt x={641} y={1350} s={10.5} it a="middle">P</Txt>
        <Txt x={625} y={842} s={15} len={45}>70.7%</Txt>
        <Txt x={625} y={1050} s={15} len={45}>50.7%</Txt>
        <Txt x={625} y={1247} s={15} len={45}>69.0%</Txt>
      </svg>
    </div>
  );
}
